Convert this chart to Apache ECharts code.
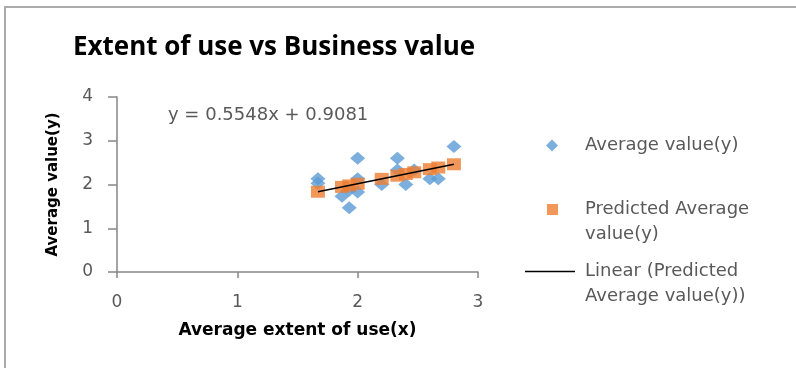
<!DOCTYPE html>
<html>
<head>
<meta charset="utf-8">
<script src="https://cdn.jsdelivr.net/npm/echarts@6/dist/echarts.min.js"></script>
<style>
  html, body { margin: 0; padding: 0; background: #fff; }
  #chart { width: 796px; height: 368px; }
</style>
</head>
<body>
<div id="chart"></div>
<script>
// Observed survey averages: extent of use (x) vs business value (y)
const extentOfUse   = [1.67, 1.67, 1.87, 1.93, 1.93, 2.0, 2.0, 2.0, 2.2, 2.33, 2.33, 2.4, 2.47, 2.6, 2.67, 2.8];
const averageValue  = [2.13, 2.03, 1.73, 1.47, 1.87, 2.6, 2.13, 1.83, 2.0, 2.6, 2.33, 2.0, 2.33, 2.13, 2.13, 2.87];

// Predicted values from the regression, one per distinct x
const predictedX    = [1.67, 1.87, 1.93, 2.0, 2.2, 2.33, 2.4, 2.47, 2.6, 2.67, 2.8];
const predictedY    = [1.835, 1.946, 1.979, 2.018, 2.129, 2.201, 2.240, 2.279, 2.351, 2.389, 2.462];

// Fitted line  y = 0.5548x + 0.9081
const slope = 0.5548;
const intercept = 0.9081;
const trendX = [1.67, 2.8];

const xTicks = [0, 1, 2, 3];
const yTicks = [0, 1, 2, 3, 4];

const observed = extentOfUse.map((x, i) => [x, averageValue[i]]);
const predicted = predictedX.map((x, i) => [x, predictedY[i]]);
const trend = trendX.map(x => [x, slope * x + intercept]);

const axisGray = '#868686';
const labelGray = '#595959';
const font = 'DejaVu Sans';

// Two-line legend entries: a leading blank line keeps the icon level with the first line
const firstLineOnIcon = name => '\n' + name;

const chart = echarts.init(document.getElementById('chart'), null, { renderer: 'canvas' });
chart.setOption({
  animation: false,
  backgroundColor: '#ffffff',
  title: {
    text: 'Extent of use vs Business value',
    left: 269,
    textAlign: 'center',
    top: 30,
    textStyle: {
      fontFamily: '"Open Sans", sans-serif',
      fontWeight: 'bold',
      fontSize: 26,
      color: '#000'
    }
  },
  grid: { left: 117, right: 318, top: 97, bottom: 96, containLabel: false },
  xAxis: {
    type: 'value',
    min: xTicks[0],
    max: xTicks[xTicks.length - 1],
    interval: 1,
    name: 'Average extent of use(x)',
    nameLocation: 'middle',
    nameGap: 50,
    nameTextStyle: { fontFamily: font, fontWeight: 'bold', fontSize: 17, color: '#000' },
    axisLine: { lineStyle: { color: axisGray, width: 1.5 } },
    axisTick: { show: true, length: 6, lineStyle: { color: axisGray, width: 1.5 } },
    axisLabel: { margin: 22, fontFamily: font, fontSize: 17, color: labelGray },
    splitLine: { show: false }
  },
  yAxis: {
    type: 'value',
    min: yTicks[0],
    max: yTicks[yTicks.length - 1],
    interval: 1,
    name: 'Average value(y)',
    nameLocation: 'middle',
    nameGap: 56,
    nameRotate: 90,
    nameTextStyle: { fontFamily: font, fontWeight: 'bold', fontSize: 15, color: '#000' },
    axisLine: { show: true, lineStyle: { color: axisGray, width: 1.5 } },
    axisTick: { show: true, length: 9, lineStyle: { color: axisGray, width: 1.5 } },
    axisLabel: { margin: 24, fontFamily: font, fontSize: 17, color: labelGray },
    splitLine: { show: false }
  },
  legend: [
    {
      orient: 'vertical', left: 546, top: 133, padding: 0,
      itemWidth: 12, itemHeight: 12,
      data: [{ name: 'Average value(y)', icon: 'diamond' }],
      textStyle: { fontFamily: font, fontSize: 18, color: labelGray, lineHeight: 25, padding: [0, 0, 0, 22] }
    },
    {
      orient: 'vertical', left: 547, top: 172, padding: 0,
      itemWidth: 11, itemHeight: 11,
      formatter: firstLineOnIcon,
      data: [{ name: 'Predicted Average\nvalue(y)', icon: 'rect' }],
      textStyle: { fontFamily: font, fontSize: 18, color: labelGray, lineHeight: 25, padding: [0, 0, 0, 22] }
    },
    {
      orient: 'vertical', left: 525, top: 234, padding: 0,
      itemWidth: 50, itemHeight: 1.5,
      formatter: firstLineOnIcon,
      data: [{ name: 'Linear (Predicted\nAverage value(y))', icon: 'rect', itemStyle: { color: '#000' } }],
      textStyle: { fontFamily: font, fontSize: 18, color: labelGray, lineHeight: 25, padding: [0, 0, 0, 5] }
    }
  ],
  graphic: [
    { type: 'line', shape: { x1: 4, y1: 7, x2: 796, y2: 7 }, style: { stroke: '#ababab', lineWidth: 2 }, silent: true },
    { type: 'line', shape: { x1: 5, y1: 7, x2: 5, y2: 368 }, style: { stroke: '#ababab', lineWidth: 2 }, silent: true },
    {
      type: 'text', left: 168, top: 106, silent: true,
      style: { text: 'y = 0.5548x + 0.9081', fontFamily: font, fontSize: 18, fill: labelGray }
    }
  ],
  series: [
    {
      name: 'Average value(y)',
      type: 'scatter',
      symbol: 'diamond',
      symbolSize: [15, 13],
      itemStyle: { color: '#5B9BD5' },
      data: observed,
      z: 2
    },
    {
      name: 'Predicted Average\nvalue(y)',
      type: 'scatter',
      symbol: 'rect',
      symbolSize: [14, 12],
      itemStyle: { color: '#ED7D31' },
      data: predicted,
      z: 3
    },
    {
      name: 'Linear (Predicted\nAverage value(y))',
      type: 'line',
      symbol: 'none',
      showSymbol: false,
      lineStyle: { color: '#000', width: 1.5 },
      itemStyle: { color: '#000' },
      data: trend,
      z: 4
    }
  ]
});
</script>
</body>
</html>
